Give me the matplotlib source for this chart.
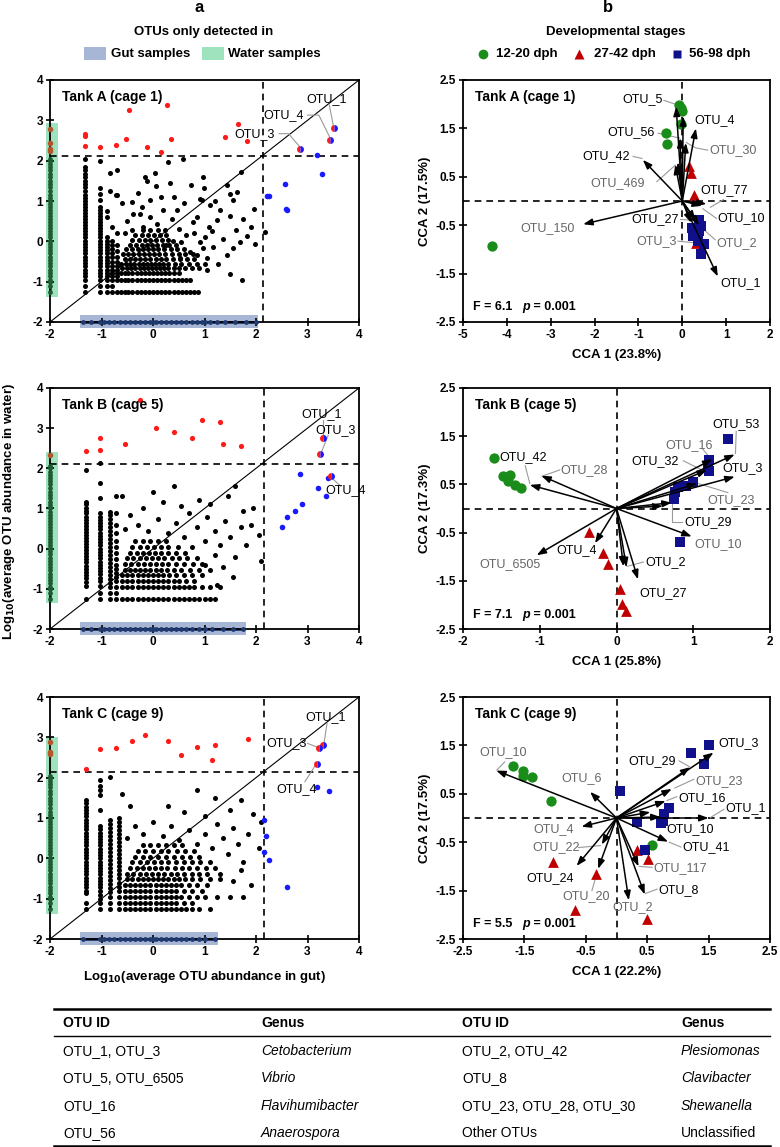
import numpy as np
import matplotlib.pyplot as plt
from matplotlib.patches import Rectangle

plt.rcParams['font.family'] = ['Liberation Sans', 'DejaVu Sans']

# ---------------- panel a : gut vs water abundance ----------------
tanks = ['Tank A (cage 1)', 'Tank B (cage 5)', 'Tank C (cage 9)']

# dashed cut-offs (x = gut, y = water)
thr_x = [2.13, 2.15, 2.15]
thr_y = [2.12, 2.10, 2.15]

# extent of the "only detected in" bands
water_band_top = [2.93, 2.40, 3.00]
water_band_bottom = [-1.38, -1.35, -1.37]
gut_band_right = [2.03, 1.80, 1.26]

# Tank A black points: columns (x, ys), rows (y, xs) and loose points
tankA_cols = [
    (-1.32, [2.04, 1.84, 1.76, 1.68, 1.6, 1.5, 1.42, 1.34, 1.25, 1.15, 1.08, 1.0, 0.92, 0.85, 0.77, 0.7, 0.62,
             0.55, 0.47, 0.4, 0.32, 0.25, 0.17, 0.1, 0.02, -0.06, -0.14, -0.22, -0.3, -0.38, -0.46, -0.54,
             -0.62, -0.7, -0.78, -0.86, -0.95, -1.1, -1.25]),
    (-1.02, [2.0, 1.33, 1.18, 1.02, 0.85, 0.77, 0.7, 0.62, 0.55, 0.47, 0.4, 0.32, 0.25, 0.17, 0.1, 0.02, -0.06,
             -0.14, -0.22, -0.3, -0.38, -0.46, -0.54, -0.62, -0.7, -0.78, -0.86, -0.95, -1.1, -1.25]),
    (-0.89, [0.75, 0.6, 0.1, 0.02, -0.06, -0.14, -0.22, -0.3, -0.38, -0.46, -0.54, -0.62, -0.7, -0.78, -0.86,
             -0.95, -1.1, -1.25]),
    (-0.79, [0.35, 0.0, -0.1, -0.2, -0.3, -0.4, -0.5, -0.6, -0.7, -0.78, -0.86, -0.95, -1.1, -1.25]),
    (-0.70, [1.76, 1.16, 0.2, -0.1, -0.25, -0.4, -0.5, -0.6, -0.7, -0.78, -0.86, -0.95, -1.25]),
]
tankA_rows = [
    (-1.25, [-0.62, -0.55, -0.48, -0.4, -0.32, -0.24, -0.16, -0.08, 0.0, 0.08, 0.16, 0.24, 0.32, 0.4, 0.48,
             0.56, 0.64, 0.72, 0.8, 0.88]),
    (-0.95, [-0.62, -0.55, -0.48, -0.4, -0.32, -0.24, -0.16, -0.08, 0.0, 0.08, 0.16, 0.24, 0.32, 0.4, 0.48,
             0.56, 0.64, 0.72]),
    (-0.78, [-0.62, -0.55, -0.48, -0.4, -0.32, -0.24, -0.16, -0.08, 0.0, 0.08, 0.16, 0.24, 0.32, 0.4, 0.5]),
    (-0.66, [-0.6, -0.5, -0.42, -0.34, -0.26, -0.18, -0.1, -0.02, 0.06, 0.14, 0.22, 0.3, 0.4, 0.5, 0.62,
             0.75, 0.9]),
    (-0.55, [-0.62, -0.52, -0.44, -0.36, -0.28, -0.2, -0.12, -0.04, 0.04, 0.12, 0.2, 0.3, 0.42, 0.55, 0.7,
             0.85, 1.0]),
    (-0.44, [-0.55, -0.45, -0.35, -0.25, -0.15, -0.05, 0.05, 0.15, 0.25, 0.38, 0.52, 0.66, 0.8]),
    (-0.32, [-0.58, -0.48, -0.38, -0.28, -0.18, -0.08, 0.02, 0.12, 0.24, 0.36, 0.5, 0.62, 0.78]),
    (-0.20, [-0.52, -0.4, -0.3, -0.2, -0.1, 0.0, 0.1, 0.22, 0.34, 0.46, 0.6]),
    (-0.08, [-0.45, -0.33, -0.22, -0.12, -0.02, 0.08, 0.2, 0.32, 0.45]),
    (0.04, [-0.4, -0.28, -0.16, -0.05, 0.06, 0.18, 0.3]),
    (0.16, [-0.35, -0.22, -0.1, 0.02, 0.14, 0.26]),
    (0.28, [-0.4, -0.2, -0.05, 0.1, 0.24]),
]
tankA_loose = [(-0.83, 1.70), (-0.71, 1.16), (-0.84, 1.26), (-0.40, 0.98), (-0.25, 0.69), (-0.16, 1.60),
               (-0.12, 1.49), (0.03, 1.69), (0.06, 1.38), (0.33, 1.45), (0.58, 2.05), (0.30, 1.96),
               (0.74, 1.39), (0.97, 1.60), (0.99, 1.31), (0.91, 1.06), (0.95, 1.02), (1.43, 1.39),
               (1.49, 1.18), (1.56, 1.02), (1.64, 1.23), (1.71, 1.72), (1.97, 0.81), (2.17, 0.23),
               (1.98, -0.06), (1.82, 0.12), (1.49, -0.81), (1.73, -0.95), (1.27, -0.56), (1.17, -0.15),
               (1.08, 0.35), (1.30, 0.77), (1.49, 0.64), (1.62, 0.27), (1.24, 0.52), (0.78, 0.48),
               (0.65, 0.15), (0.46, 0.77), (0.36, 0.56), (0.20, 0.77), (0.07, 0.44), (-0.06, 1.02),
               (-0.22, 0.85), (-0.38, 0.69), (0.55, -0.01), (0.91, -0.01), (0.97, -0.17), (0.85, -0.34),
               (1.04, -0.42), (0.72, -0.26), (0.52, -0.42), (1.43, -0.34), (1.56, -0.17), (1.69, -0.01),
               (1.10, 0.90), (1.20, 1.00), (0.60, 0.95), (0.50, 0.30), (0.85, 0.60), (1.05, -0.70),
               (1.35, 0.05), (0.80, 0.20), (1.00, 0.10), (1.15, 0.25), (1.90, 0.35), (1.75, 0.55),
               (-0.50, 0.50), (-0.55, 0.20), (-0.60, 0.95), (-0.30, 1.20), (-0.05, 0.60), (0.15, 1.10),
               (0.40, 1.10), (-0.20, 0.35), (0.38, 0.02), (0.25, -0.10)]
tankA_red = [(-0.46, 3.25), (0.28, 3.38), (-1.33, 2.67), (-1.33, 2.61), (-1.33, 2.36), (-1.02, 2.33),
             (-0.71, 2.38), (-0.53, 2.53), (-0.12, 2.33), (0.16, 2.21), (0.34, 2.53), (1.40, 2.59),
             (1.65, 2.90), (1.83, 2.48)]
tankA_blue = [(2.21, 1.12), (2.25, 1.13), (2.56, 1.43), (2.58, 0.81), (2.60, 0.78), (3.19, 2.14), (3.29, 1.68)]
tankA_brown = [2.78, 2.44, 2.29, 2.24]
tankA_otus = [('OTU_1', 3.51, 2.82), ('OTU_4', 3.44, 2.52), ('OTU_3', 2.86, 2.29)]

# Tank B
tankB_cols = [
    (-1.31, [1.96, 1.17, 1.1, 1.02, 0.95, 0.88, 0.8, 0.72, 0.65, 0.57, 0.5, 0.42, 0.35, 0.27, 0.2, 0.12, 0.05,
             -0.03, -0.1, -0.18, -0.26, -0.34, -0.42, -0.5, -0.58, -0.66, -0.74, -0.82, -0.94, -1.25]),
    (-1.02, [2.13, 1.64, 1.26, 0.89, 0.8, 0.72, 0.64, 0.56, 0.48, 0.4, 0.32, 0.24, 0.16, 0.08, 0.0, -0.08,
             -0.16, -0.24, -0.32, -0.4, -0.48, -0.56, -0.64, -0.72, -0.8, -0.94, -1.1, -1.25]),
    (-0.84, [0.92, 0.84, 0.74, 0.64, 0.54, 0.44, 0.34, 0.24, 0.14, 0.04, -0.06, -0.16, -0.26, -0.36, -0.46,
             -0.56, -0.66, -0.76, -0.86, -0.95, -1.1, -1.25]),
    (-0.72, [1.3, 0.88, 0.6, 0.4, 0.2, 0.05, -0.1, -0.25, -0.4, -0.5, -0.6, -0.7, -0.8, -0.95, -1.1, -1.25]),
]
tankB_rows = [
    (-1.25, [-0.6, -0.5, -0.4, -0.3, -0.2, -0.1, 0.0, 0.1, 0.2, 0.3, 0.4, 0.5, 0.6, 0.7, 0.8, 0.9, 1.0, 1.1, 1.2]),
    (-0.95, [-0.6, -0.5, -0.4, -0.3, -0.2, -0.1, 0.0, 0.1, 0.2, 0.3, 0.4, 0.5, 0.6, 0.7, 0.8, 0.95, 1.1, 1.3]),
    (-0.80, [-0.6, -0.5, -0.4, -0.3, -0.2, -0.1, 0.0, 0.1, 0.2, 0.3, 0.4, 0.5, 0.65, 0.8]),
    (-0.66, [-0.6, -0.5, -0.4, -0.3, -0.2, -0.1, 0.0, 0.1, 0.2, 0.32, 0.45, 0.6, 0.75, 0.95]),
    (-0.52, [-0.55, -0.45, -0.35, -0.25, -0.15, -0.05, 0.05, 0.15, 0.28, 0.4, 0.55, 0.72, 0.9, 1.1]),
    (-0.38, [-0.55, -0.42, -0.3, -0.18, -0.06, 0.06, 0.18, 0.3, 0.45, 0.6, 0.78, 0.95]),
    (-0.24, [-0.5, -0.38, -0.26, -0.14, -0.02, 0.1, 0.22, 0.36, 0.5, 0.66, 0.85]),
    (-0.10, [-0.45, -0.32, -0.2, -0.08, 0.04, 0.16, 0.3, 0.45, 0.62]),
    (0.04, [-0.4, -0.26, -0.12, 0.02, 0.16, 0.3, 0.48]),
    (0.18, [-0.35, -0.2, -0.05, 0.1, 0.25]),
]
tankB_loose = [(-0.55, 0.5), (-0.45, 0.85), (-0.3, 0.6), (-0.1, 0.45), (0.1, 0.75), (0.3, 0.4), (0.45, 0.65),
               (0.6, 0.3), (0.7, 0.9), (0.85, 0.55), (1.0, 0.2), (1.05, 0.8), (1.2, 0.45), (1.3, 0.1),
               (1.4, 0.7), (1.5, 0.3), (1.6, -0.2), (1.7, 0.55), (1.8, 0.1), (1.9, 0.6), (2.05, 0.35),
               (1.35, -0.45), (1.55, -0.7), (1.2, -0.15), (0.9, 1.2), (1.1, 1.1), (0.55, 1.05), (0.2, 1.15),
               (1.45, 1.3), (1.75, 0.95), (0.75, 0.05), (1.0, -0.4), (1.25, -0.9), (-0.2, 1.0), (0.0, 1.4),
               (1.95, 1.0), (2.1, -0.3), (0.4, 1.55), (1.6, 1.55), (-0.6, 1.3)]
tankB_red = [(-1.31, 2.43), (-1.02, 2.75), (-1.02, 2.45), (-0.55, 2.6), (-0.25, 3.7), (0.05, 3.0),
             (0.4, 2.9), (0.75, 2.75), (0.95, 3.2), (1.3, 3.15), (1.35, 2.6), (1.7, 2.55)]
tankB_blue = [(2.85, 1.85), (3.2, 1.5), (3.4, 1.75), (3.35, 1.3), (2.6, 0.8), (2.75, 0.95), (2.9, 1.1),
              (2.5, 0.55)]
tankB_brown = [2.32]
tankB_otus = [('OTU_1', 3.30, 2.75), ('OTU_3', 3.25, 2.35), ('OTU_4', 3.45, 1.80)]

# Tank C
tankC_cols = [
    (-1.31, [1.44, 1.36, 1.28, 1.2, 1.12, 1.04, 0.96, 0.88, 0.8, 0.72, 0.64, 0.56, 0.48, 0.4, 0.32, 0.24,
             0.16, 0.08, 0.0, -0.08, -0.16, -0.24, -0.32, -0.4, -0.48, -0.56, -0.64, -0.72, -0.8, -0.86,
             -1.1, -1.25]),
    (-1.02, [1.94, 1.8, 1.7, 1.57, 1.2, 0.8, 0.72, 0.64, 0.56, 0.48, 0.4, 0.32, 0.24, 0.16, 0.08, 0.0,
             -0.08, -0.16, -0.24, -0.32, -0.4, -0.48, -0.56, -0.64, -0.72, -0.8, -0.9, -1.0, -1.1, -1.25]),
    (-0.84, [2.02, 0.95, 0.86, 0.76, 0.66, 0.56, 0.46, 0.36, 0.26, 0.16, 0.06, -0.04, -0.14, -0.24, -0.34,
             -0.44, -0.54, -0.64, -0.74, -0.84, -0.95, -1.1, -1.25]),
    (-0.66, [1.0, 0.9, 0.8, 0.7, 0.6, 0.5, 0.4, 0.3, 0.2, 0.1, 0.0, -0.1, -0.2, -0.3, -0.4, -0.5, -0.6,
             -0.7, -0.8, -0.95, -1.1, -1.25]),
]
tankC_rows = [
    (-1.25, [-0.55, -0.45, -0.35, -0.25, -0.15, -0.05, 0.05, 0.15, 0.25, 0.35, 0.45, 0.55, 0.65, 0.75, 0.9, 1.1]),
    (-1.10, [-0.55, -0.45, -0.35, -0.25, -0.15, -0.05, 0.05, 0.15, 0.25, 0.35, 0.45, 0.6, 0.75]),
    (-0.95, [-0.55, -0.45, -0.35, -0.25, -0.15, -0.05, 0.05, 0.15, 0.25, 0.35, 0.45, 0.55, 0.7, 0.85, 1.0,
             1.25, 1.5, 1.75]),
    (-0.80, [-0.55, -0.45, -0.35, -0.25, -0.15, -0.05, 0.05, 0.15, 0.25, 0.35, 0.45, 0.6, 0.75, 0.95]),
    (-0.66, [-0.55, -0.45, -0.35, -0.25, -0.15, -0.05, 0.05, 0.15, 0.25, 0.35, 0.45, 0.55, 0.7, 0.85, 1.05]),
    (-0.52, [-0.5, -0.4, -0.3, -0.2, -0.1, 0.0, 0.1, 0.2, 0.3, 0.4, 0.5, 0.62, 0.76, 0.92, 1.1, 1.3]),
    (-0.38, [-0.5, -0.38, -0.26, -0.14, -0.02, 0.1, 0.22, 0.34, 0.46, 0.6, 0.75, 0.9, 1.05]),
    (-0.24, [-0.45, -0.32, -0.2, -0.08, 0.04, 0.16, 0.28, 0.42, 0.56, 0.7, 0.86, 1.02, 1.2]),
    (-0.10, [-0.4, -0.26, -0.12, 0.02, 0.16, 0.3, 0.45, 0.6, 0.76, 0.92, 1.1]),
    (0.04, [-0.35, -0.2, -0.05, 0.1, 0.25, 0.4, 0.56, 0.72, 0.9]),
    (0.18, [-0.3, -0.15, 0.0, 0.15, 0.3, 0.46, 0.62, 0.8]),
    (0.32, [-0.2, -0.05, 0.1, 0.25, 0.4, 0.56]),
]
tankC_loose = [(-0.5, 0.5), (-0.35, 0.8), (-0.2, 0.6), (0.0, 0.9), (0.2, 0.55), (0.35, 0.8), (0.5, 0.45),
               (0.7, 0.7), (0.85, 0.35), (1.0, 0.6), (1.15, 0.25), (1.25, 0.85), (1.35, 0.5), (1.45, 0.1),
               (1.55, 0.75), (1.65, 0.35), (1.75, -0.1), (1.85, 0.6), (1.95, 1.1), (2.05, 0.25), (1.5, 1.2),
               (1.3, -0.4), (1.55, -0.55), (1.7, -0.3), (1.0, 1.05), (0.6, 1.15), (0.3, 1.3), (1.2, 1.5),
               (1.7, 1.45), (0.85, 1.7), (-0.45, 1.3), (-0.6, 1.6), (1.9, -0.65), (2.1, 0.9)]
tankC_red = [(-1.31, 2.21), (-1.02, 2.71), (-0.71, 2.73), (-0.4, 2.9), (-0.15, 3.05), (0.3, 2.9),
             (0.55, 2.55), (0.85, 2.75), (1.2, 2.8), (1.85, 2.95), (1.15, 2.45)]
tankC_blue = [(3.42, 1.68), (2.15, 0.95), (2.2, 0.55), (2.15, 0.15), (2.25, -0.05), (2.6, -0.7),
              (3.18, 1.76)]
tankC_brown = [2.88, 2.63, 2.58]
tankC_otus = [('OTU_1', 3.30, 2.80), ('OTU_3', 3.22, 2.74), ('OTU_4', 3.18, 2.35)]

# OTUs detected in water only (dots along x = -2) and gut only (dots along y = -2)
water_only_y = [-1.25, -1.1, -1.0, -0.95, -0.86, -0.78, -0.7, -0.62, -0.54, -0.46, -0.38, -0.3, -0.22, -0.14,
                -0.06, 0.02, 0.1, 0.17, 0.25, 0.32, 0.4, 0.47, 0.55, 0.62, 0.7, 0.77, 0.85, 0.92, 1.0, 1.08,
                1.15, 1.25, 1.34, 1.42, 1.5, 1.6, 1.68, 1.76, 1.84, 1.92, 2.0, 2.05]
gut_only_x_A = [-1.35, -1.2, -1.02, -0.95, -0.85, -0.75, -0.65, -0.55, -0.45, -0.35, -0.25, -0.15, -0.05, 0.0,
                0.05, 0.15, 0.25, 0.35, 0.45, 0.55, 0.65, 0.75, 0.85, 0.95, 1.0, 1.1, 1.25, 1.4, 1.6, 1.8, 2.0]
gut_only_x_B = [-1.35, -1.2, -1.02, -0.95, -0.85, -0.75, -0.65, -0.55, -0.45, -0.35, -0.25, -0.15, -0.05, 0.0,
                0.05, 0.15, 0.25, 0.35, 0.45, 0.55, 0.65, 0.75, 0.9, 1.0, 1.15, 1.35, 1.55, 1.75]
gut_only_x_C = [-1.35, -1.02, -0.95, -0.85, -0.75, -0.65, -0.55, -0.45, -0.35, -0.25, -0.15, -0.05, 0.0, 0.05,
                0.15, 0.25, 0.35, 0.45, 0.55, 0.65, 0.75, 0.9, 1.0, 1.2]

# ---------------- panel b : CCA biplots ----------------
stages = ['12-20 dph', '27-42 dph', '56-98 dph']
cca1_pct = ['23.8', '25.8', '22.2']
cca2_pct = ['17.5', '17.3', '17.5']
f_values = ['6.1', '7.1', '5.5']
p_values = ['0.001', '0.001', '0.001']

ccaA_green = [(-0.08, 1.98), (-0.03, 1.93), (0.0, 1.85), (-0.02, 1.60), (-0.38, 1.41), (-0.35, 1.17), (-4.34, -0.92)]
ccaA_red = [(0.15, 0.72), (0.21, 0.57), (0.26, 0.12), (0.30, 0.06), (0.32, -0.87)]
ccaA_blue = [(0.38, -0.40), (0.22, -0.55), (0.38, -0.62), (0.24, -0.72), (0.36, -0.82), (0.50, -0.88),
             (0.42, -1.10), (0.28, -0.60), (0.42, -0.52)]
ccaA_otu = ['OTU_5', 'OTU_56', 'OTU_30', 'OTU_4', 'OTU_42', 'OTU_469', 'OTU_77', 'OTU_10', 'OTU_27',
            'OTU_2', 'OTU_3', 'OTU_150', 'OTU_1', '', '']
ccaA_x = [-0.14, -0.05, 0.08, 0.31, -0.90, -0.16, 0.55, 0.45, 0.30, 0.38, 0.20, -2.26, 0.81, 0.02, -0.10]
ccaA_y = [1.95, 1.30, 1.20, 1.50, 0.85, 0.75, -0.06, -0.10, -0.40, -0.50, -0.45, -0.48, -1.56, 1.75, 0.80]

ccaB_green = [(-1.60, 1.04), (-1.48, 0.68), (-1.39, 0.70), (-1.42, 0.58), (-1.32, 0.48), (-1.25, 0.43)]
ccaB_red = [(-0.36, -0.48), (-0.18, -0.93), (-0.11, -1.16), (0.05, -1.66), (0.07, -1.98), (0.12, -2.13)]
ccaB_blue = [(1.45, 1.45), (1.21, 1.00), (1.19, 0.88), (1.21, 0.78), (1.00, 0.55), (0.90, 0.47), (0.80, 0.45),
             (0.76, 0.35), (0.75, 0.20), (0.83, -0.70)]
ccaB_otu = ['OTU_53', 'OTU_16', 'OTU_32', 'OTU_3', 'OTU_23', 'OTU_29', 'OTU_10', 'OTU_2', 'OTU_27',
            'OTU_4', 'OTU_6505', 'OTU_42', 'OTU_28', '', '']
ccaB_x = [1.54, 1.25, 1.18, 1.54, 1.05, 0.72, 0.98, 0.13, 0.28, -0.28, -1.04, -1.13, -0.98, 0.09, 0.60]
ccaB_y = [1.12, 1.02, 0.80, 0.66, 0.52, 0.12, -0.58, -1.22, -1.47, -0.72, -0.97, 0.49, 0.68, -1.20, 0.05]

ccaC_green = [(-1.68, 1.07), (-1.52, 0.98), (-1.53, 0.86), (-1.37, 0.84), (-1.06, 0.35), (0.58, -0.55)]
ccaC_red = [(0.33, -0.66), (0.52, -0.85), (-1.04, -0.90), (-0.34, -1.15), (-0.68, -1.90), (0.50, -2.08)]
ccaC_blue = [(1.51, 1.50), (1.22, 1.35), (1.43, 1.12), (0.06, 0.56), (0.85, 0.20), (0.77, 0.08), (0.75, -0.07),
             (0.72, -0.10), (0.34, -0.09), (0.47, -0.66)]
ccaC_otu = ['OTU_10', 'OTU_6', 'OTU_3', 'OTU_29', 'OTU_23', 'OTU_16', 'OTU_1', 'OTU_10', 'OTU_41',
            'OTU_117', 'OTU_8', 'OTU_2', 'OTU_20', 'OTU_24', 'OTU_22', 'OTU_4', '']
ccaC_x = [-1.96, -0.43, 1.58, 1.20, 0.90, 0.80, 1.50, 0.72, 0.84, 0.36, 0.46, 0.20, -0.30, -0.65, -0.24, -0.57, 0.55]
ccaC_y = [0.98, 0.54, 1.35, 1.05, 0.60, 0.35, 0.00, 0.02, -0.49, -1.00, -1.58, -1.70, -1.05, -0.99, -0.55, -0.18, 0.12]

# genus table
table_otus_left = ['OTU_1, OTU_3', 'OTU_5, OTU_6505', 'OTU_16', 'OTU_56']
table_genus_left = ['Cetobacterium', 'Vibrio', 'Flavihumibacter', 'Anaerospora']
table_otus_right = ['OTU_2, OTU_42', 'OTU_8', 'OTU_23, OTU_28, OTU_30', 'Other OTUs']
table_genus_right = ['Plesiomonas', 'Clavibacter', 'Shewanella', 'Unclassified']

# ---------------- layout / style ----------------
W, H = 780, 1147
GREEN, RED, NAVY = '#1a8c1a', '#c00000', '#10108c'
WATER_C, GUT_C = '#9fe2be', '#a8b6d6'
GREY_T, GREY_L = '#666666', '#9a9a9a'

# label placement for panel a OTUs: (text x, y, leader path)
a_labels = [
    {'OTU_1': (3.38, 3.53, [(3.42, 3.40), (3.50, 2.88)]),
     'OTU_4': (2.53, 3.13, [(3.00, 3.13), (3.22, 3.13), (3.44, 2.56)]),
     'OTU_3': (1.98, 2.67, [(2.45, 2.67), (2.63, 2.67), (2.86, 2.33)])},
    {'OTU_1': (3.28, 3.35, [(3.30, 3.20), (3.30, 2.80)]),
     'OTU_3': (3.55, 2.95, [(3.40, 2.82), (3.27, 2.40)]),
     'OTU_4': (3.75, 1.45, [(3.65, 1.55), (3.47, 1.76)])},
    {'OTU_1': (3.35, 3.50, [(3.38, 3.35), (3.32, 2.85)]),
     'OTU_3': (2.60, 2.85, [(3.00, 2.85), (3.18, 2.76)]),
     'OTU_4': (2.78, 1.72, [(2.95, 1.90), (3.15, 2.30)])},
]

# label placement for CCA arrows: name index -> (text x, y, ha, grey?, leader)
b_labels = [
    {0: (-0.45, 2.10, 'right', False, [(-0.42, 2.08), (-0.16, 2.00)]),
     1: (-0.62, 1.42, 'right', False, [(-0.55, 1.40), (-0.06, 1.30)]),
     2: (0.61, 1.05, 'left', True, [(0.58, 1.05), (0.30, 1.10), (0.09, 1.21)]),
     3: (0.27, 1.68, 'left', False, None),
     4: (-1.19, 0.92, 'right', False, [(-1.12, 0.92), (-0.92, 0.88)]),
     5: (-0.85, 0.37, 'right', True, [(-0.58, 0.40), (-0.16, 0.74)]),
     6: (0.42, 0.23, 'left', False, [(0.94, 0.03), (0.64, -0.13)]),
     7: (0.81, -0.36, 'left', False, [(0.78, -0.36), (0.47, -0.16)]),
     8: (-0.07, -0.38, 'right', False, [(-0.04, -0.38), (0.28, -0.40)]),
     9: (0.77, -0.87, 'left', True, [(0.75, -0.80), (0.40, -0.52)]),
     10: (-0.13, -0.83, 'right', True, [(-0.10, -0.83), (0.25, -0.86)]),
     11: (-2.45, -0.56, 'right', True, None),
     12: (0.86, -1.70, 'left', False, None)},
    {0: (1.25, 1.75, 'left', False, [(1.56, 1.60), (1.55, 1.14)]),
     1: (0.64, 1.32, 'left', True, [(1.12, 1.24), (1.23, 1.03)]),
     2: (0.19, 0.98, 'left', False, [(0.87, 0.99), (1.15, 0.77)]),
     3: (1.38, 0.84, 'left', False, None),
     4: (1.19, 0.17, 'left', True, [(1.45, 0.33), (1.06, 0.52)]),
     5: (0.88, -0.28, 'left', False, [(0.72, 0.13), (0.72, -0.28), (0.85, -0.28)]),
     6: (1.01, -0.73, 'left', True, None),
     7: (0.37, -1.11, 'left', False, [(0.35, -1.11), (0.14, -1.20)]),
     8: (0.30, -1.75, 'left', False, None),
     9: (-0.25, -0.87, 'right', False, None),
     10: (-0.99, -1.16, 'right', True, None),
     11: (-1.52, 1.06, 'left', False, [(-1.19, 0.89), (-1.13, 0.52)]),
     12: (-0.73, 0.79, 'left', True, [(-0.74, 0.80), (-0.97, 0.67)])},
    {0: (-1.85, 1.37, 'center', True, [(-1.82, 1.16), (-1.95, 0.99)]),
     1: (-0.57, 0.83, 'center', True, None),
     2: (1.66, 1.55, 'left', False, None),
     3: (0.96, 1.18, 'right', False, [(1.02, 1.18), (1.19, 1.06)]),
     4: (1.29, 0.77, 'left', True, [(1.26, 0.80), (0.95, 0.62)]),
     5: (1.00, 0.41, 'left', False, [(0.98, 0.44), (0.82, 0.36)]),
     6: (1.77, 0.20, 'left', False, [(1.75, 0.18), (1.53, 0.01)]),
     7: (0.82, -0.23, 'left', False, None),
     8: (1.08, -0.61, 'left', False, [(1.05, -0.60), (0.86, -0.50)]),
     9: (0.60, -1.04, 'left', True, [(0.58, -1.02), (0.37, -1.00)]),
     10: (0.68, -1.49, 'left', False, [(0.66, -1.47), (0.47, -1.56)]),
     11: (0.26, -1.84, 'center', True, None),
     12: (-0.49, -1.62, 'center', True, [(-0.40, -1.50), (-0.31, -1.10)]),
     13: (-1.08, -1.25, 'center', False, None),
     14: (-0.99, -0.61, 'center', True, [(-0.62, -0.61), (-0.26, -0.57)]),
     15: (-1.03, -0.23, 'center', True, None)},
]


def pix_axes(x0, y0, x1, y1):
    return fig.add_axes([x0 / W, 1 - y1 / H, (x1 - x0) / W, (y1 - y0) / H])


def style_axes(ax):
    for s in ax.spines.values():
        s.set_linewidth(1.3)
    ax.tick_params(direction='inout', length=6, width=1.2, labelsize=8.5, pad=2)
    for lab in ax.get_xticklabels() + ax.get_yticklabels():
        lab.set_fontweight('bold')


def expand(cols, rows, loose):
    xs, ys = [], []
    for x, yl in cols:
        xs += [x] * len(yl)
        ys += yl
    for y, xl in rows:
        xs += xl
        ys += [y] * len(xl)
    for x, y in loose:
        xs.append(x)
        ys.append(y)
    return xs, ys


fig = plt.figure(figsize=(W / 100, H / 100), dpi=100)

rows_px = [(80, 322), (388, 629), (697, 939)]
a_data = [
    (tankA_cols, tankA_rows, tankA_loose, tankA_red, tankA_blue, tankA_brown, tankA_otus, gut_only_x_A),
    (tankB_cols, tankB_rows, tankB_loose, tankB_red, tankB_blue, tankB_brown, tankB_otus, gut_only_x_B),
    (tankC_cols, tankC_rows, tankC_loose, tankC_red, tankC_blue, tankC_brown, tankC_otus, gut_only_x_C),
]

for i, (top, bot) in enumerate(rows_px):
    cols, rws, loose, red, blue, brown, otus, gut_x = a_data[i]
    ax = pix_axes(50, top, 359, bot)
    ax.set_xlim(-2, 4)
    ax.set_ylim(-2, 4)
    ax.set_xticks(range(-2, 5))
    ax.set_yticks(range(-2, 5))
    ax.set_xticklabels([str(v) for v in range(-2, 5)])
    ax.set_yticklabels([str(v) for v in range(-2, 5)])
    # bands
    ax.add_patch(Rectangle((-2.08, water_band_bottom[i]), 0.23, water_band_top[i] - water_band_bottom[i],
                           color=WATER_C, lw=0, zorder=0, clip_on=False))
    ax.add_patch(Rectangle((-1.42, -2.16), gut_band_right[i] + 1.42, 0.33,
                           color=GUT_C, lw=0, zorder=0, clip_on=False))
    ax.plot([-2, 4], [-2, 4], color='black', lw=0.8, zorder=1)
    ax.axvline(thr_x[i], color='black', ls=(0, (4, 3)), lw=1.2, zorder=1)
    ax.axhline(thr_y[i], color='black', ls=(0, (4, 3)), lw=1.2, zorder=1)
    xs, ys = expand(cols, rws, loose)
    ax.scatter(xs, ys, s=13, color='black', lw=0, zorder=3)
    ax.scatter([p[0] for p in red], [p[1] for p in red], s=14, color='#ff1a1a', lw=0, zorder=3)
    ax.scatter([p[0] for p in blue], [p[1] for p in blue], s=16, color='#1a1aff', lw=0, zorder=3)
    ax.plot([-2, -2], [min(water_only_y), max(water_only_y)], color='#1e5b32', lw=2.0, zorder=2, clip_on=False)
    ax.scatter([-2] * len(water_only_y), water_only_y, s=12, color='#1e5b32', lw=0, zorder=3, clip_on=False)
    ax.scatter([-2] * len(brown), brown, s=16, color='#b5562a', lw=0, zorder=3, clip_on=False)
    ax.plot([min(gut_x), max(gut_x)], [-2, -2], color='#1f3a70', lw=2.0, zorder=2, clip_on=False)
    ax.scatter(gut_x, [-2] * len(gut_x), s=12, color='#1f3a70', lw=0, zorder=3, clip_on=False)
    for name, ox, oy in otus:
        tx, ty, path = a_labels[i][name]
        ax.plot(ox, oy, 'o', ms=5, mec='none', mfc='#ff1a1a', markerfacecoloralt='#1a1aff',
                fillstyle='left', zorder=4)
        ax.text(tx, ty, name, fontsize=9, ha='center', va='center', zorder=5)
        ax.plot([p[0] for p in path], [p[1] for p in path], color=GREY_L, lw=0.8, zorder=2)
    ax.text(0.04, 0.93, tanks[i], transform=ax.transAxes, fontsize=10, fontweight='bold', va='center')
    style_axes(ax)
    if i == 2:
        ax.set_xlabel('Log$_{\\mathbf{10}}$(average OTU abundance in gut)', fontsize=9.5,
                      fontweight='bold', labelpad=8)

fig.text(9 / W, 1 - 512 / H, 'Log$_{\\mathbf{10}}$(average OTU abundance in water)', rotation=90,
         fontsize=9.5, fontweight='bold', ha='center', va='center')

# CCA panels
b_lims = [((-5, 2), list(range(-5, 3))), ((-2, 2), list(range(-2, 3))),
          ((-2.5, 2.5), [-2.5, -1.5, -0.5, 0.5, 1.5, 2.5])]
cca_data = [(ccaA_green, ccaA_red, ccaA_blue, ccaA_otu, ccaA_x, ccaA_y),
            (ccaB_green, ccaB_red, ccaB_blue, ccaB_otu, ccaB_x, ccaB_y),
            (ccaC_green, ccaC_red, ccaC_blue, ccaC_otu, ccaC_x, ccaC_y)]
yt = [-2.5, -1.5, -0.5, 0.5, 1.5, 2.5]

for i, (top, bot) in enumerate(rows_px):
    green, red, blue, names, vx, vy = cca_data[i]
    ax = pix_axes(463, top, 770, bot)
    (x0, x1), xt = b_lims[i]
    ax.set_xlim(x0, x1)
    ax.set_ylim(-2.5, 2.5)
    ax.set_xticks(xt)
    ax.set_xticklabels([('%g' % v) for v in xt])
    ax.set_yticks(yt)
    ax.set_yticklabels([('%g' % v) for v in yt])
    ax.axvline(0, color='black', ls=(0, (4, 3)), lw=1.2, zorder=1)
    ax.axhline(0, color='black', ls=(0, (4, 3)), lw=1.2, zorder=1)
    ax.scatter([p[0] for p in green], [p[1] for p in green], s=55, marker='o', color=GREEN, lw=0, zorder=3)
    ax.scatter([p[0] for p in red], [p[1] for p in red], s=60, marker='^', color=RED, lw=0, zorder=3)
    ax.scatter([p[0] for p in blue], [p[1] for p in blue], s=50, marker='s', color=NAVY, lw=0, zorder=3)
    for k, (name, x, y) in enumerate(zip(names, vx, vy)):
        ax.annotate('', xy=(x, y), xytext=(0, 0),
                    arrowprops=dict(arrowstyle='-|>,head_length=0.55,head_width=0.2', color='black',
                                    lw=1.1, shrinkA=0, shrinkB=0), zorder=4)
        if k in b_labels[i]:
            tx, ty, ha, grey, path = b_labels[i][k]
            ax.text(tx, ty, name, fontsize=9, ha=ha, va='center', color=GREY_T if grey else 'black', zorder=5)
            if path:
                ax.plot([p[0] for p in path], [p[1] for p in path], color=GREY_L, lw=0.8, zorder=2)
    ax.text(0.04, 0.93, tanks[i], transform=ax.transAxes, fontsize=10, fontweight='bold', va='center')
    t1 = ax.text(0.033, 0.06, 'F = %s' % f_values[i], transform=ax.transAxes, fontsize=9,
                 fontweight='bold', va='center')
    t2 = ax.annotate('p', xy=(1, 0), xycoords=t1, xytext=(7, 0), textcoords='offset points',
                     fontsize=9, fontweight='bold', style='italic', va='bottom')
    ax.annotate(' = %s' % p_values[i], xy=(1, 0), xycoords=t2, fontsize=9, fontweight='bold', va='bottom')
    style_axes(ax)
    ax.set_xlabel('CCA 1 (%s%%)' % cca1_pct[i], fontsize=9.5, fontweight='bold', labelpad=6)
    ax.set_ylabel('CCA 2 (%s%%)' % cca2_pct[i], fontsize=9.5, fontweight='bold', labelpad=3)

# headers, legends and table on an overlay in pixel units
ov = fig.add_axes([0, 0, 1, 1], zorder=-1)
ov.set_xlim(0, W)
ov.set_ylim(H, 0)
ov.axis('off')
ov.text(199, 8, 'a', fontsize=12, fontweight='bold', ha='center', va='center')
ov.text(608, 8, 'b', fontsize=12, fontweight='bold', ha='center', va='center')
ov.text(204, 32, 'OTUs only detected in', fontsize=9.5, fontweight='bold', ha='center', va='center')
ov.text(616, 32, 'Developmental stages', fontsize=9.5, fontweight='bold', ha='center', va='center')
ov.add_patch(Rectangle((84, 47), 22, 13, color=GUT_C, lw=0))
ov.text(111, 54, 'Gut samples', fontsize=9.5, fontweight='bold', va='center')
ov.add_patch(Rectangle((202, 47), 22, 13, color=WATER_C, lw=0))
ov.text(228, 54, 'Water samples', fontsize=9.5, fontweight='bold', va='center')
for (mx, tx), mk, c, lab in zip([(483, 496), (579, 594), (677, 689)], ['o', '^', 's'], [GREEN, RED, NAVY], stages):
    ov.plot(mx, 54, marker=mk, ms=7 if mk != 's' else 6, color=c, mec='none')
    ov.text(tx, 54, lab, fontsize=9.5, fontweight='bold', va='center')

tfont = ['Liberation Sans Narrow', 'Liberation Sans', 'DejaVu Sans']
ov.plot([54, 770], [1009, 1009], color='black', lw=1.8)
ov.plot([54, 770], [1036, 1036], color='black', lw=1.0)
ov.plot([54, 770], [1146, 1146], color='black', lw=1.8)
for x, lab in zip([63, 261, 462, 681], ['OTU ID', 'Genus', 'OTU ID', 'Genus']):
    ov.text(x, 1023, lab, fontsize=10, fontweight='bold', va='center', family=tfont)
for r, y in enumerate([1051, 1078, 1106, 1133]):
    ov.text(63, y, table_otus_left[r], fontsize=10, va='center', family=tfont)
    ov.text(261, y, table_genus_left[r], fontsize=10, style='italic', va='center', family=tfont)
    ov.text(462, y, table_otus_right[r], fontsize=10, va='center', family=tfont)
    ov.text(681, y, table_genus_right[r], fontsize=10, style='italic' if r < 3 else 'normal',
            va='center', family=tfont)

fig.savefig('out.png', dpi=100)
